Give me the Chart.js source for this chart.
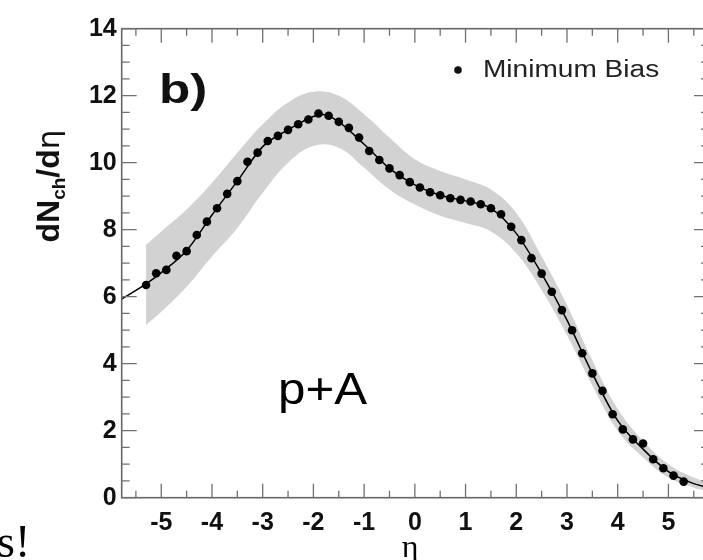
<!DOCTYPE html>
<html><head><meta charset="utf-8">
<script src="https://cdn.jsdelivr.net/npm/chart.js@4"></script>
<style>
html,body{margin:0;padding:0;overflow:hidden;background:#fff;width:703px;height:560px}
#wrap{width:720px;height:560px;position:relative}
</style>
</head><body><div id="wrap"><canvas id="c"></canvas></div>
<script>
// Measured data points (eta bins and dNch/deta)
const etaBins = [-5.3,-5.1,-4.9,-4.7,-4.5,-4.3,-4.1,-3.9,-3.7,-3.5,-3.3,-3.1,-2.9,-2.7,-2.5,-2.3,-2.1,-1.9,-1.7,-1.5,-1.3,-1.1,-0.9,-0.7,-0.5,-0.3,-0.1,0.1,0.3,0.5,0.7,0.9,1.1,1.3,1.5,1.7,1.9,2.1,2.3,2.5,2.7,2.9,3.1,3.3,3.5,3.7,3.9,4.1,4.3,4.5,4.7,4.9,5.1,5.3];
const dNdEta = [6.35,6.70,6.80,7.22,7.36,7.84,8.24,8.64,9.07,9.45,10.03,10.30,10.65,10.80,10.98,11.15,11.29,11.47,11.40,11.22,11.04,10.75,10.35,10.08,9.83,9.63,9.42,9.26,9.12,9.03,8.94,8.89,8.84,8.76,8.64,8.46,8.09,7.69,7.15,6.69,6.15,5.60,5.00,4.31,3.71,3.19,2.49,2.04,1.74,1.62,1.15,0.88,0.66,0.48];
// Smooth curve through the points
const fitEta = [-5.78,-5.3,-5.0,-4.5,-4.0,-3.5,-3.0,-2.5,-2.0,-1.8,-1.5,-1.0,-0.5,0,0.5,1.0,1.5,2.0,2.5,3.0,3.5,4.0,4.5,5.0,5.5,5.8];
const fitVal = [5.93,6.38,6.72,7.38,8.44,9.45,10.48,10.98,11.38,11.44,11.22,10.55,9.83,9.34,9.03,8.86,8.64,7.89,6.69,5.30,3.71,2.30,1.45,0.78,0.42,0.30];
// Systematic uncertainty band
const bandEta = [-5.3,-5.0,-4.5,-4.0,-3.5,-3.0,-2.5,-2.0,-1.5,-1.0,-0.5,0,0.5,1.0,1.5,2.0,2.5,3.0,3.5,4.0,4.5,5.0,5.5,5.8];
const bandUpper = [7.55,7.95,8.6,9.4,10.3,11.15,11.8,12.12,12.0,11.45,10.75,10.1,9.75,9.5,9.2,8.5,7.2,5.75,4.1,2.65,1.7,1.0,0.6,0.45];
const bandLower = [5.15,5.55,6.3,7.2,8.05,9.1,10.0,10.5,10.45,9.85,9.2,8.75,8.42,8.2,7.95,7.3,6.2,4.85,3.35,2.0,1.2,0.6,0.3,0.2];
// Axis ticks
const xTickValues = [-5,-4,-3,-2,-1,0,1,2,3,4,5];
const xMinorValues = [-5.5,-4.5,-3.5,-2.5,-1.5,-0.5,0.5,1.5,2.5,3.5,4.5,5.5];
const yTickValues = [0,2,4,6,8,10,12,14];
const yMinorValues = [0.5,1,1.5,2.5,3,3.5,4.5,5,5.5,6.5,7,7.5,8.5,9,9.5,10.5,11,11.5,12.5,13,13.5];

const SANS = '"Liberation Sans", Arial, Helvetica, sans-serif';
const SERIF = '"Liberation Serif", "Times New Roman", serif';
const pts = (xs, ys) => xs.map((x, i) => ({x, y: ys[i]}));

function textStretched(ctx, txt, x, y, sx, align) {
  ctx.save();
  ctx.translate(x, y);
  ctx.scale(sx, 1);
  ctx.textAlign = align || 'left';
  ctx.fillText(txt, 0, 0);
  ctx.restore();
}

const decor = {
  id: 'decor',
  afterDraw(chart) {
    const {ctx, chartArea: a, scales: {x, y}} = chart;
    ctx.save();
    // frame
    ctx.strokeStyle = '#666';
    ctx.lineWidth = 1.6;
    ctx.strokeRect(a.left, a.top, a.right - a.left, a.bottom - a.top);
    // ticks (inward)
    ctx.lineWidth = 1.3;
    ctx.strokeStyle = '#707070';
    ctx.beginPath();
    const tx = (v, len) => { const p = x.getPixelForValue(v);
      ctx.moveTo(p, a.bottom); ctx.lineTo(p, a.bottom - len);
      ctx.moveTo(p, a.top); ctx.lineTo(p, a.top + len); };
    const ty = (v, len) => { const p = y.getPixelForValue(v);
      ctx.moveTo(a.left, p); ctx.lineTo(a.left + len, p);
      ctx.moveTo(a.right, p); ctx.lineTo(a.right - len, p); };
    xTickValues.forEach(v => tx(v, 14));
    xMinorValues.forEach(v => tx(v, 7));
    yTickValues.forEach(v => ty(v, 15));
    yMinorValues.forEach(v => ty(v, 8));
    ctx.stroke();

    ctx.fillStyle = '#111';
    ctx.textBaseline = 'alphabetic';
    // panel label
    ctx.font = 'bold 40px ' + SANS;
    textStretched(ctx, 'b)', 159, 103, 1.28);
    // legend
    const leg = chart.data.datasets[0];
    ctx.beginPath();
    ctx.arc(458, 70, 3.8, 0, Math.PI * 2);
    ctx.fill();
    ctx.fillStyle = '#222';
    ctx.font = '23px ' + SANS;
    textStretched(ctx, leg.label, 483, 77, 1.22);
    // p+A
    ctx.fillStyle = '#000';
    ctx.font = '44px ' + SANS;
    textStretched(ctx, 'p+A', 278, 404, 1.12);
    // s!
    ctx.font = '46px ' + SERIF;
    ctx.fillText('s!', -3, 557);
    // x title
    ctx.font = '32px ' + SERIF;
    ctx.textAlign = 'center';
    ctx.fillText('\u03b7', 410, 557);
    // y title with subscript
    ctx.save();
    ctx.translate(59, 186);
    ctx.rotate(-Math.PI / 2);
    const big = 'bold 32px ' + SANS, small = 'bold 19px ' + SANS;
    const parts = [['dN', big, 0], ['ch', small, 6], ['/d', big, 0], ['\u03b7', '31px "DejaVu Sans", ' + SANS, 0]];
    let w = 0;
    parts.forEach(p => { ctx.font = p[1]; w += ctx.measureText(p[0]).width; });
    let cx = -w / 2;
    ctx.textAlign = 'left';
    ctx.fillStyle = '#111';
    parts.forEach(p => { ctx.font = p[1]; ctx.fillText(p[0], cx, p[2]); cx += ctx.measureText(p[0]).width; });
    ctx.restore();
    ctx.restore();
  }
};

new Chart(document.getElementById('c'), {
  type: 'line',
  data: {
    datasets: [
      { label: 'Minimum Bias', data: pts(etaBins, dNdEta), showLine: false,
        pointRadius: 4.3, pointHoverRadius: 4.3, pointBackgroundColor: '#000', pointBorderColor: '#000',
        pointBorderWidth: 0, order: 0 },
      { label: 'fit', data: pts(fitEta, fitVal), borderColor: '#000', borderWidth: 1.5,
        pointRadius: 0, cubicInterpolationMode: 'monotone', fill: false, order: 1 },
      { label: 'band upper', data: pts(bandEta, bandUpper), borderWidth: 0, borderColor: 'rgba(0,0,0,0)',
        pointRadius: 0, tension: 0.4, fill: '+1', backgroundColor: '#d2d2d2', order: 2 },
      { label: 'band lower', data: pts(bandEta, bandLower), borderWidth: 0, borderColor: 'rgba(0,0,0,0)',
        pointRadius: 0, tension: 0.4, fill: false, order: 3 }
    ]
  },
  options: {
    responsive: true,
    maintainAspectRatio: false,
    animation: false,
    events: [],
    layout: { padding: { left: 21.7, top: 28.7, right: 11, bottom: 0 } },
    plugins: { legend: { display: false }, tooltip: { enabled: false } },
    scales: {
      x: {
        type: 'linear', min: -5.78, max: 5.8,
        grid: { display: false, drawTicks: false }, border: { display: false },
        afterBuildTicks: s => { s.ticks = xTickValues.map(v => ({value: v})); },
        afterFit: s => { s.height = 62.3; },
        ticks: { font: { family: SANS, size: 25, weight: 'bold' }, color: '#111', padding: 10, maxRotation: 0, autoSkip: false }
      },
      y: {
        type: 'linear', min: 0, max: 14,
        grid: { display: false, drawTicks: false }, border: { display: false },
        afterBuildTicks: s => { s.ticks = yTickValues.map(v => ({value: v})); },
        afterFit: s => { s.width = 100; },
        ticks: { font: { family: SANS, size: 25, weight: 'bold' }, color: '#111', padding: 5, autoSkip: false }
      }
    }
  },
  plugins: [decor]
});
</script>
</body></html>
